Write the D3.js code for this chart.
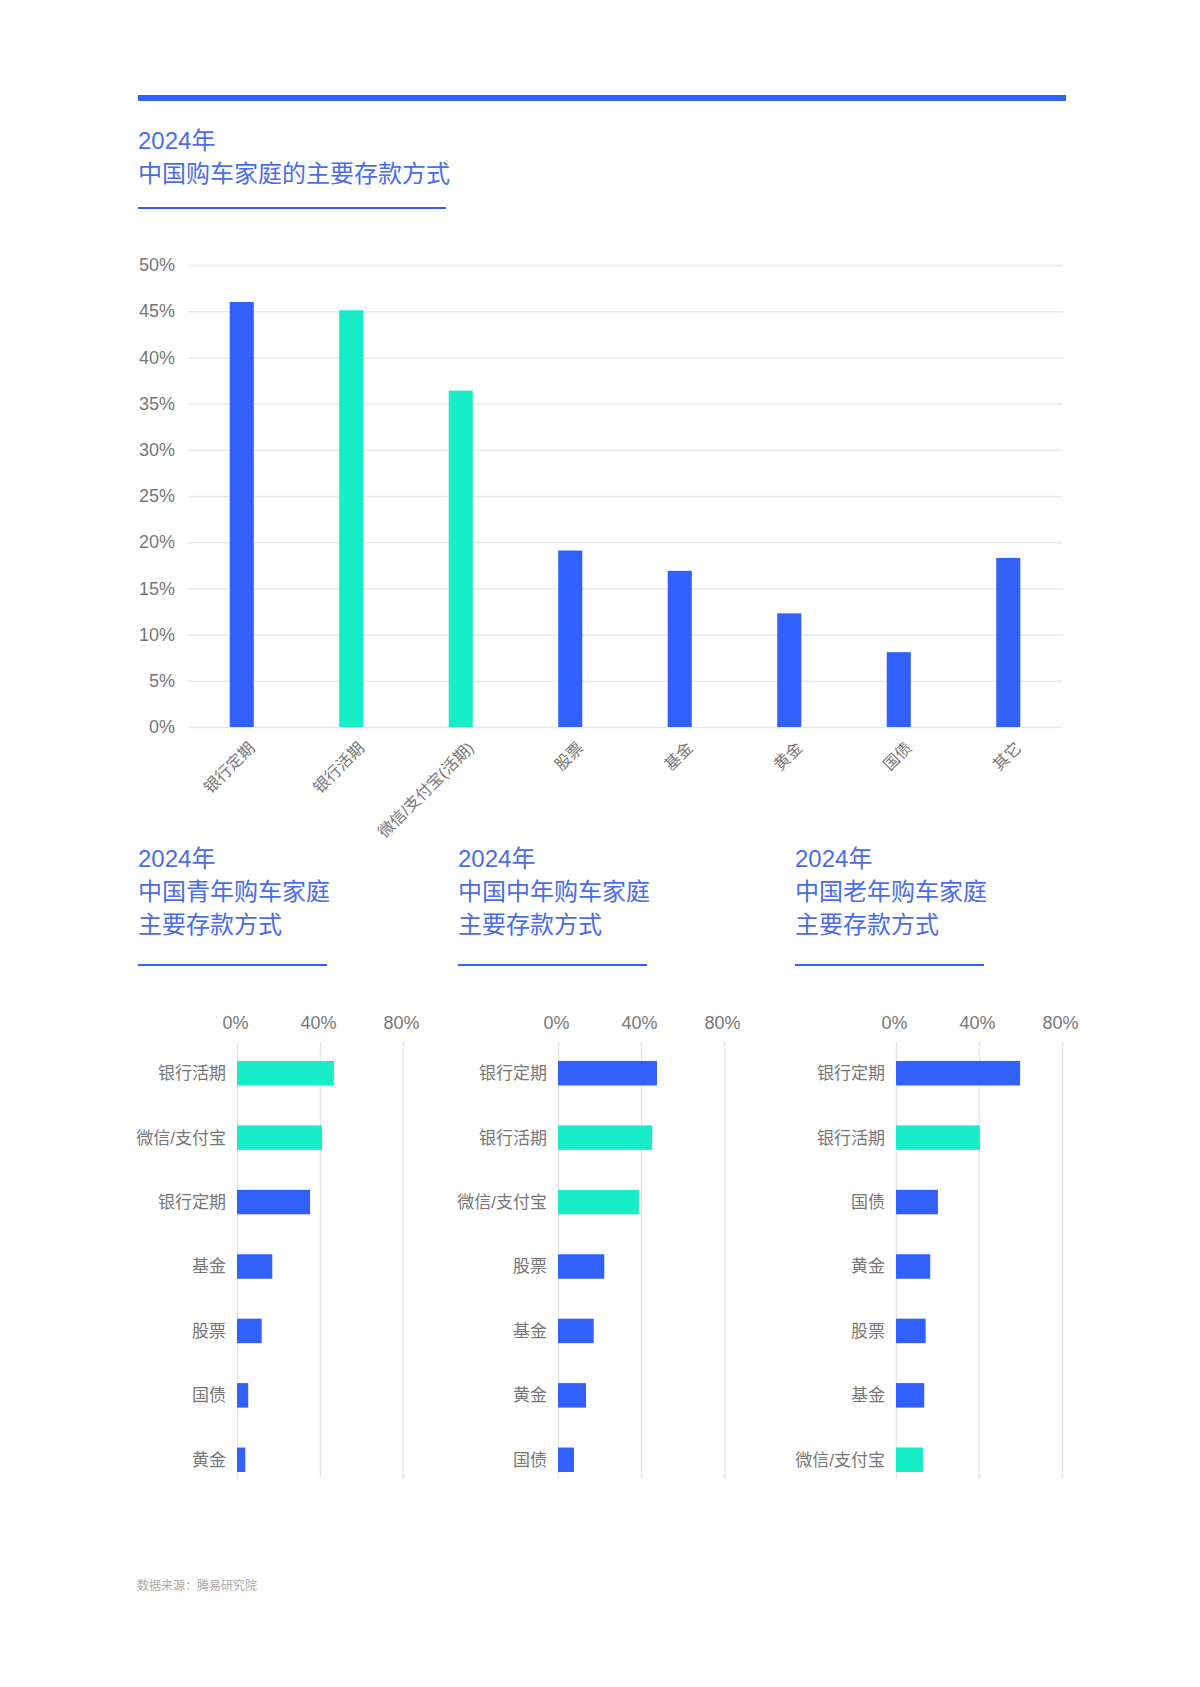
<!DOCTYPE html>
<html>
<head>
<meta charset="utf-8">
<script src="https://cdn.jsdelivr.net/npm/d3@7"></script>
<style>
  body { margin: 0; background: #fff; }
  svg { display: block; }
</style>
</head>
<body>
<svg id="chart"></svg>
<script>
// main chart data
var mainCategories = ["银行定期", "银行活期", "微信/支付宝(活期)", "股票", "基金", "黄金", "国债", "其它"];
var mainValues = [46.0, 45.1, 36.4, 19.1, 16.9, 12.3, 8.1, 18.3];
var mainTicks = [0, 5, 10, 15, 20, 25, 30, 35, 40, 45, 50];

// small charts data
var youngCategories = ["银行活期", "微信/支付宝", "银行定期", "基金", "股票", "国债", "黄金"];
var youngValues = [46.7, 41.0, 35.2, 17.0, 11.9, 5.4, 4.0];
var middleCategories = ["银行定期", "银行活期", "微信/支付宝", "股票", "基金", "黄金", "国债"];
var middleValues = [47.7, 45.4, 39.0, 22.3, 17.2, 13.5, 7.7];
var oldCategories = ["银行定期", "银行活期", "国债", "黄金", "股票", "基金", "微信/支付宝"];
var oldValues = [59.8, 40.4, 20.2, 16.5, 14.3, 13.6, 13.0];
var smallTicks = [0, 40, 80];

// categories drawn in green (liquid deposits)
var liquidKeys = ["银行活期", "微信/支付宝", "微信/支付宝(活期)"];

var blue = "#3160fb";
var green = "#17eec7";
var titleColor = "#4a6cec";
var font = "'Liberation Sans', Arial, 'Noto Sans CJK SC', sans-serif";

function barColor(name) {
    return liquidKeys.indexOf(name) >= 0 ? green : blue;
}

var svg = d3.select("#chart")
    .attr("width", 1200)
    .attr("height", 1687)
    .style("font-family", font);

// top thick rule
svg.append("rect").attr("x", 138).attr("y", 95).attr("width", 928).attr("height", 6).attr("fill", blue);

function drawTitle(x, y, lines, underlineWidth, underlineY) {
    var t = svg.append("text")
        .attr("x", x)
        .attr("y", y)
        .style("font-size", "24px")
        .attr("fill", titleColor);
    lines.forEach(function(line, i) {
        t.append("tspan").attr("x", x).attr("dy", i === 0 ? 0 : 33).text(line);
    });
    svg.append("rect").attr("x", x).attr("y", underlineY).attr("width", underlineWidth).attr("height", 2).attr("fill", blue);
}

drawTitle(138, 149, ["2024年", "中国购车家庭的主要存款方式"], 308, 207);

// ---- main column chart ----
var x = d3.scaleBand()
    .domain(mainCategories)
    .range([187, 1063])
    .paddingInner(0.78)
    .paddingOuter(0.39);

var y = d3.scaleLinear()
    .domain([0, 50])
    .range([727, 265]);

var yAxis = svg.append("g")
    .attr("transform", "translate(187,0)")
    .call(d3.axisLeft(y).tickValues(mainTicks).tickFormat(function(d) { return d + "%"; })
        .tickSize(-876).tickPadding(12));
yAxis.select(".domain").remove();
yAxis.selectAll(".tick line").attr("stroke", "#e9e9e9").attr("stroke-width", 1.5);
yAxis.selectAll(".tick text").attr("fill", "#777").style("font-size", "18px").style("font-family", font);

svg.append("g").selectAll("rect")
    .data(mainValues)
    .enter()
    .append("rect")
    .attr("x", function(d, i) { return x(mainCategories[i]); })
    .attr("y", function(d) { return y(d); })
    .attr("width", x.bandwidth())
    .attr("height", function(d) { return y(0) - y(d); })
    .attr("fill", function(d, i) { return barColor(mainCategories[i]); });

svg.append("g").selectAll("text")
    .data(mainCategories)
    .enter()
    .append("text")
    .attr("transform", function(d) {
        return "translate(" + (x(d) + x.bandwidth() / 2 + 10) + ",745) rotate(-45)";
    })
    .attr("text-anchor", "end")
    .attr("dy", "0.35em")
    .attr("fill", "#777")
    .style("font-size", "16px")
    .text(function(d) { return d; });

// ---- small bar charts ----
function drawSmall(cats, vals, x0, titleX, titleLine2) {
    drawTitle(titleX, 867, ["2024年", titleLine2, "主要存款方式"], 189, 964);

    var sx = d3.scaleLinear().domain([0, 80]).range([x0, x0 + 166]);
    var sy = d3.scaleBand().domain(cats).range([1041, 1492]).paddingInner(0.62).paddingOuter(0.31);

    var ax = svg.append("g")
        .attr("transform", "translate(0,1042)")
        .call(d3.axisTop(sx).tickValues(smallTicks).tickFormat(function(d) { return d + "%"; })
            .tickSize(-437).tickPadding(13));
    ax.select(".domain").remove();
    ax.selectAll(".tick line").attr("stroke", "#e6e6e6").attr("stroke-width", 1.5);
    ax.selectAll(".tick text").attr("fill", "#777").attr("dx", -2)
        .style("font-size", "18px").style("font-family", font);

    svg.append("g").selectAll("rect")
        .data(vals)
        .enter()
        .append("rect")
        .attr("x", sx(0))
        .attr("y", function(d, i) { return sy(cats[i]); })
        .attr("width", function(d) { return sx(d) - sx(0); })
        .attr("height", sy.bandwidth())
        .attr("fill", function(d, i) { return barColor(cats[i]); });

    svg.append("g").selectAll("text")
        .data(cats)
        .enter()
        .append("text")
        .attr("x", sx(0) - 11)
        .attr("y", function(d) { return sy(d) + sy.bandwidth() / 2; })
        .attr("dy", "0.35em")
        .attr("text-anchor", "end")
        .attr("fill", "#777")
        .style("font-size", "17px")
        .text(function(d) { return d; });
}

drawSmall(youngCategories, youngValues, 237, 138, "中国青年购车家庭");
drawSmall(middleCategories, middleValues, 558, 458, "中国中年购车家庭");
drawSmall(oldCategories, oldValues, 896, 795, "中国老年购车家庭");

// source note
svg.append("text")
    .attr("x", 137)
    .attr("y", 1590)
    .attr("fill", "#aaa")
    .style("font-size", "12px")
    .text("数据来源：腾易研究院");
</script>
</body>
</html>
